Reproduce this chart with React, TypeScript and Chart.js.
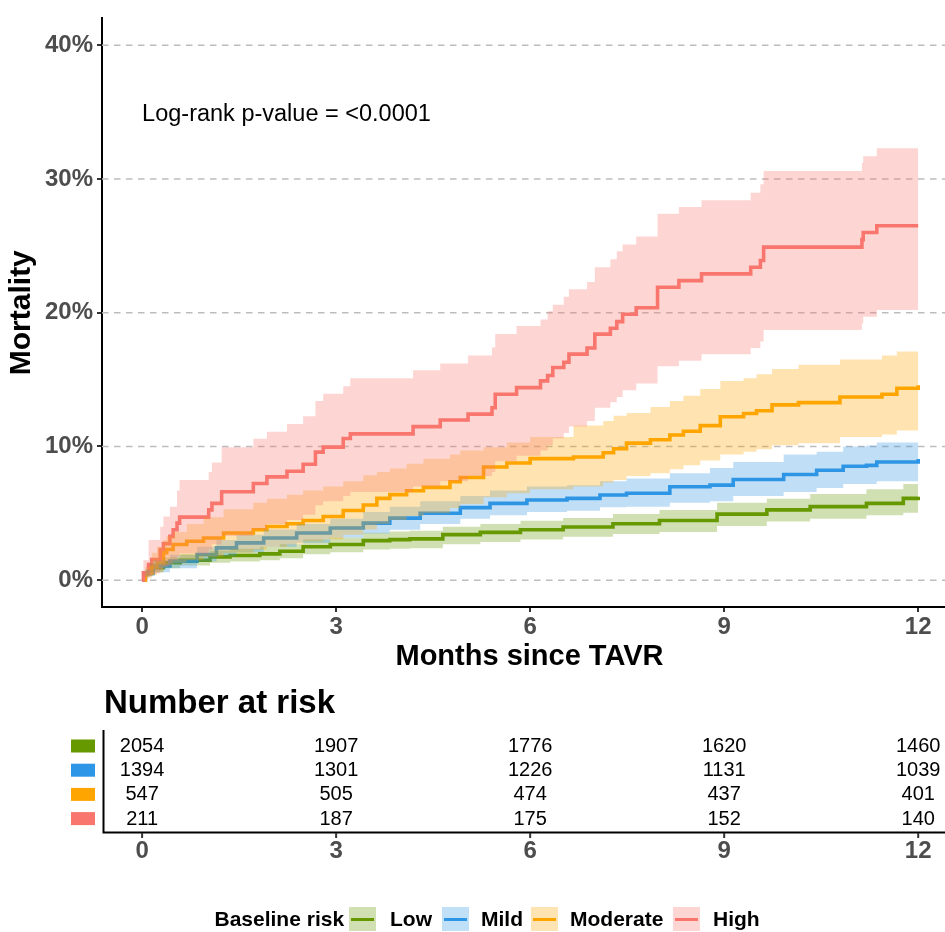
import React, { useEffect, useRef } from 'react';
import { Chart, registerables } from 'chart.js';

Chart.register(...registerables);

const FONT = '"Liberation Sans", Arial, Helvetica, sans-serif';

const groupNames = ['Low', 'Mild', 'Moderate', 'High'];
const legendTitle = 'Baseline risk';
const pValueText = 'Log-rank p-value = <0.0001';
const xTitle = 'Months since TAVR';
const yTitle = 'Mortality';
const tableTitle = 'Number at risk';

const lineColors = ['#669900', '#2E96E6', '#FFA500', '#F8766D'];
const bandAlpha = 0.3;

const xTickValues = [0, 3, 6, 9, 12];
const yTickValues = [0, 10, 20, 30, 40];
const pValuePos = [0, 35];

// Low risk (green)
const lowTime = [0, 0.05, 0.12, 0.33, 0.59, 1.05, 1.36, 1.82, 2.13, 2.49, 2.91, 3.42, 3.83, 4.14, 4.65, 5.23, 5.85, 6.51, 7.28, 8.0, 8.89, 9.66, 10.33, 11.2, 11.77, 12.0];
const lowEst = [0, 0.5, 0.94, 1.31, 1.5, 1.75, 1.85, 1.97, 2.17, 2.5, 2.67, 2.96, 3.04, 3.09, 3.41, 3.58, 3.78, 3.98, 4.22, 4.47, 4.94, 5.26, 5.5, 5.75, 6.12, 6.24];
const lowHi = [0, 0.8, 1.3, 1.7, 1.95, 2.2, 2.35, 2.5, 2.7, 3.05, 3.2, 3.55, 3.65, 3.7, 4.0, 4.2, 4.45, 4.65, 4.95, 5.26, 5.8, 6.1, 6.45, 6.8, 7.2, 7.36];
const lowLo = [0, 0.25, 0.6, 0.9, 1.1, 1.3, 1.4, 1.5, 1.65, 1.95, 2.1, 2.3, 2.35, 2.4, 2.7, 2.85, 3.05, 3.25, 3.45, 3.6, 4.05, 4.4, 4.6, 4.85, 5.05, 5.13];

// Mild risk (blue)
const mildTime = [0, 0.05, 0.17, 0.43, 0.85, 1.15, 1.46, 1.88, 2.39, 2.91, 3.42, 3.83, 4.3, 4.92, 5.38, 5.95, 6.57, 7.08, 7.49, 8.16, 8.78, 9.14, 9.92, 10.43, 10.84, 11.2, 11.36, 12.0];
const mildEst = [0, 0.5, 1.06, 1.43, 1.93, 2.42, 2.79, 3.16, 3.53, 3.9, 4.27, 4.64, 5.01, 5.43, 5.75, 6.0, 6.12, 6.37, 6.5, 6.99, 7.11, 7.53, 7.9, 8.22, 8.52, 8.59, 8.84, 9.06];
const mildHi = [0, 0.8, 1.5, 1.9, 2.5, 3.0, 3.4, 3.8, 4.2, 4.6, 5.1, 5.5, 5.9, 6.3, 6.7, 7.0, 7.1, 7.4, 7.6, 8.0, 8.4, 8.84, 9.4, 9.6, 10.0, 10.07, 10.3, 10.57];
const mildLo = [0, 0.3, 0.6, 0.9, 1.4, 1.8, 2.1, 2.5, 2.8, 3.2, 3.5, 3.78, 4.2, 4.6, 4.85, 5.1, 5.2, 5.45, 5.5, 5.8, 5.9, 6.3, 6.6, 6.9, 7.2, 7.2, 7.4, 7.48];

// Moderate risk (orange)
const modTime = [0, 0.05, 0.15, 0.23, 0.33, 0.38, 0.48, 0.69, 0.95, 1.26, 1.72, 1.93, 2.24, 2.49, 2.8, 3.11, 3.42, 3.63, 3.83, 4.09, 4.35, 4.76, 4.92, 5.28, 5.64, 6.0, 6.67, 7.13, 7.29, 7.49, 7.86, 8.16, 8.37, 8.63, 8.94, 9.3, 9.5, 9.74, 10.15, 10.79, 11.44, 11.67, 12.0];
const modEst = [0, 0.5, 1.0, 1.31, 2.05, 2.3, 2.67, 2.91, 3.16, 3.53, 3.78, 4.02, 4.22, 4.47, 4.76, 5.21, 5.63, 6.12, 6.4, 6.69, 6.94, 7.36, 7.68, 8.47, 8.77, 9.09, 9.21, 9.53, 9.83, 10.25, 10.5, 10.86, 11.14, 11.56, 12.22, 12.47, 12.67, 13.11, 13.28, 13.7, 13.9, 14.35, 14.57];
const modHi = [0, 1.0, 2.05, 2.5, 3.0, 3.3, 3.6, 4.2, 4.7, 5.3, 5.8, 6.1, 6.4, 6.7, 7.0, 7.4, 7.85, 8.1, 8.35, 8.7, 9.09, 9.4, 9.7, 9.95, 10.3, 10.7, 11.56, 11.9, 12.3, 12.5, 12.96, 13.4, 13.8, 14.3, 14.9, 15.1, 15.4, 15.8, 16.1, 16.5, 16.8, 17.1, 17.48];
const modLo = [0, 0.2, 0.4, 0.6, 1.0, 1.15, 1.3, 1.5, 1.75, 2.05, 2.3, 2.5, 2.7, 2.9, 3.04, 3.4, 3.8, 4.2, 4.5, 4.8, 5.0, 5.4, 5.7, 6.2, 6.5, 6.8, 7.0, 7.3, 7.5, 7.8, 8.0, 8.3, 8.6, 8.96, 9.4, 9.6, 9.8, 10.1, 10.25, 10.7, 10.9, 11.2, 11.4];

// High risk (red)
const highTime = [0, 0.02, 0.1, 0.15, 0.28, 0.33, 0.43, 0.48, 0.54, 0.58, 1.03, 1.08, 1.23, 1.72, 1.93, 2.24, 2.49, 2.68, 2.8, 3.11, 3.22, 4.19, 4.61, 5.04, 5.41, 5.46, 5.79, 6.16, 6.27, 6.35, 6.52, 6.6, 6.88, 7.0, 7.24, 7.34, 7.43, 7.64, 7.97, 8.3, 8.65, 9.41, 9.56, 9.61, 11.13, 11.15, 11.36, 12.0];
const highEst = [0, 0.55, 1.18, 1.55, 2.3, 2.74, 3.28, 3.78, 4.27, 4.72, 5.26, 5.75, 6.62, 7.23, 7.73, 8.15, 8.67, 9.58, 9.95, 10.6, 10.94, 11.48, 11.98, 12.42, 12.9, 13.9, 14.4, 14.9, 15.3, 15.9, 16.3, 16.9, 17.36, 18.4, 18.84, 19.33, 19.88, 20.37, 21.9, 22.4, 22.9, 23.4, 23.9, 24.9, 25.46, 26.0, 26.5, 26.5];
const highHi = [0, 1.5, 3.0, 3.0, 4.0, 4.77, 5.5, 5.5, 6.7, 7.5, 8.1, 8.8, 9.95, 10.57, 11.1, 11.68, 12.25, 13.4, 13.95, 14.5, 15.1, 15.7, 16.2, 16.8, 17.4, 18.4, 19.0, 19.5, 20.1, 20.6, 21.2, 21.75, 22.3, 23.4, 24.0, 24.6, 25.1, 25.7, 27.4, 27.9, 28.4, 28.96, 29.6, 30.6, 31.2, 31.7, 32.3, 32.3];
const highLo = [0, 0.1, 0.3, 0.5, 0.8, 1.0, 1.3, 1.5, 1.8, 2.0, 2.3, 2.7, 3.3, 3.8, 4.2, 4.5, 4.9, 5.6, 5.9, 6.3, 6.6, 7.0, 7.4, 7.8, 8.1, 8.9, 9.3, 9.7, 10.1, 10.6, 11.0, 11.5, 11.9, 12.9, 13.3, 13.7, 14.2, 14.7, 16.0, 16.4, 16.9, 17.36, 17.85, 18.7, 19.2, 19.7, 20.2, 20.2];

// Number at risk at months 0, 3, 6, 9, 12
const atRiskLow = [2054, 1907, 1776, 1620, 1460];
const atRiskMild = [1394, 1301, 1226, 1131, 1039];
const atRiskModerate = [547, 505, 474, 437, 401];
const atRiskHigh = [211, 187, 175, 152, 140];

const groups = [
  { t: lowTime, est: lowEst, lo: lowLo, hi: lowHi, atRisk: atRiskLow },
  { t: mildTime, est: mildEst, lo: mildLo, hi: mildHi, atRisk: atRiskMild },
  { t: modTime, est: modEst, lo: modLo, hi: modHi, atRisk: atRiskModerate },
  { t: highTime, est: highEst, lo: highLo, hi: highHi, atRisk: atRiskHigh },
];

function rgbOf(hex: string) {
  const h = hex.replace('#', '');
  return [parseInt(h.slice(0, 2), 16), parseInt(h.slice(2, 4), 16), parseInt(h.slice(4, 6), 16)];
}
function rgba(hex: string, a: number) {
  const [r, g, b] = rgbOf(hex);
  return `rgba(${r},${g},${b},${a})`;
}
function flatOnWhite(hex: string, a: number) {
  const [r, g, b] = rgbOf(hex).map((c) => Math.round(255 - a * (255 - c)));
  return `rgb(${r},${g},${b})`;
}

const pts = (t: number[], v: number[]) => t.map((x, i) => ({ x, y: v[i] }));

function drawText(ctx: CanvasRenderingContext2D, s: string, x: number, y: number, font: string, color: string, align: CanvasTextAlign) {
  ctx.save();
  ctx.font = font;
  ctx.fillStyle = color;
  ctx.textAlign = align;
  ctx.textBaseline = 'middle';
  ctx.fillText(s, x, y);
  ctx.restore();
}

const decorPlugin = {
  id: 'decor',
  beforeDatasetsDraw(chart: any) {
    const { ctx, chartArea, scales } = chart;
    const y = scales.y;
    ctx.save();
    ctx.strokeStyle = '#BDBDBD';
    ctx.lineWidth = 1.5;
    ctx.setLineDash([6.5, 5.5]);
    yTickValues.forEach((v) => {
      const py = y.getPixelForValue(v);
      ctx.beginPath();
      ctx.moveTo(chartArea.left, py);
      ctx.lineTo(chartArea.right, py);
      ctx.stroke();
    });
    ctx.restore();
  },
  afterDraw(chart: any) {
    const { ctx, scales } = chart;
    const x = scales.x;
    const y = scales.y;

    // p-value annotation
    drawText(ctx, pValueText, x.getPixelForValue(pValuePos[0]), y.getPixelForValue(pValuePos[1]) + 2, `23.5px ${FONT}`, '#000', 'left');

    // Risk table
    drawText(ctx, tableTitle, 104, 704, `bold 33px ${FONT}`, '#000', 'left');
    const xs = xTickValues.map((v) => x.getPixelForValue(v));
    groups.forEach((g, r) => {
      const ry = 746 + 24.2 * r;
      ctx.fillStyle = lineColors[r];
      ctx.fillRect(71, ry - 6.5, 24, 13);
      g.atRisk.forEach((n, c) => {
        drawText(ctx, String(n), xs[c], ry + 0.5, `20px ${FONT}`, '#000', 'center');
      });
    });
    ctx.save();
    ctx.strokeStyle = '#000';
    ctx.lineWidth = 2;
    ctx.beginPath();
    ctx.moveTo(103.5, 730);
    ctx.lineTo(103.5, 833);
    ctx.moveTo(102.5, 832.5);
    ctx.lineTo(chart.width, 832.5);
    ctx.stroke();
    ctx.strokeStyle = '#333';
    xs.forEach((px) => {
      ctx.beginPath();
      ctx.moveTo(px, 833);
      ctx.lineTo(px, 838);
      ctx.stroke();
    });
    ctx.restore();
    xTickValues.forEach((v, i) => {
      drawText(ctx, String(v), xs[i], 851.5, `bold 24px ${FONT}`, '#4D4D4D', 'center');
    });

    // Legend
    const ly = 920;
    drawText(ctx, legendTitle, 214.5, ly, `bold 21px ${FONT}`, '#000', 'left');
    const keyX = [349, 442, 531, 673];
    const labelX = [390, 481, 570, 713];
    groupNames.forEach((name, i) => {
      ctx.fillStyle = flatOnWhite(lineColors[i], bandAlpha);
      ctx.fillRect(keyX[i], 907, 27, 24);
      ctx.save();
      ctx.strokeStyle = lineColors[i];
      ctx.lineWidth = 3;
      ctx.beginPath();
      ctx.moveTo(keyX[i] + 2, 919.5);
      ctx.lineTo(keyX[i] + 25, 919.5);
      ctx.stroke();
      ctx.restore();
      drawText(ctx, name, labelX[i], ly, `bold 21px ${FONT}`, '#000', 'left');
    });
  },
};

export default function App() {
  const canvasRef = useRef<HTMLCanvasElement | null>(null);

  useEffect(() => {
    const datasets: any[] = [];
    groups.forEach((g, i) => {
      datasets.push({
        data: pts(g.t, g.est),
        borderColor: lineColors[i],
        backgroundColor: lineColors[i],
        borderWidth: 3.6,
        stepped: true,
        pointRadius: 0,
        pointHoverRadius: 0,
        fill: false,
        borderJoinStyle: 'miter',
        borderCapStyle: 'butt',
        order: 10 - i,
      });
    });
    groups.forEach((g, i) => {
      datasets.push({
        data: pts(g.t, g.hi),
        borderColor: 'transparent',
        borderWidth: 0,
        backgroundColor: rgba(lineColors[i], bandAlpha),
        fill: '+1',
        stepped: true,
        pointRadius: 0,
        pointHoverRadius: 0,
        order: 5 - i,
      });
      datasets.push({
        data: pts(g.t, g.lo),
        borderColor: 'transparent',
        borderWidth: 0,
        backgroundColor: 'transparent',
        fill: false,
        stepped: true,
        pointRadius: 0,
        pointHoverRadius: 0,
        order: 5 - i,
      });
    });

    const chart = new Chart(canvasRef.current as HTMLCanvasElement, {
      type: 'line',
      data: { datasets },
      options: {
        responsive: false,
        animation: false,
        devicePixelRatio: 1,
        events: [],
        layout: { padding: { left: 0, top: 12, right: 3, bottom: 255 } },
        plugins: {
          legend: { display: false },
          tooltip: { enabled: false },
        },
        scales: {
          x: {
            type: 'linear',
            min: -0.62,
            max: 12.6,
            afterBuildTicks: (s: any) => {
              s.ticks = xTickValues.map((v) => ({ value: v }));
            },
            afterFit: (s: any) => {
              s.height = 70;
            },
            grid: { drawOnChartArea: false, drawTicks: true, tickLength: 5, tickColor: '#333', tickWidth: 2, lineWidth: 2 },
            border: { display: true, color: '#000', width: 2 },
            ticks: {
              autoSkip: false,
              maxRotation: 0,
              padding: 1,
              color: '#4D4D4D',
              font: { family: FONT, size: 24, weight: 'bold' },
            },
            title: {
              display: true,
              text: xTitle,
              color: '#000',
              font: { family: FONT, size: 29, weight: 'bold' },
              padding: { top: 0, bottom: 3 },
            },
          },
          y: {
            type: 'linear',
            min: -2,
            max: 42,
            afterBuildTicks: (s: any) => {
              s.ticks = yTickValues.map((v) => ({ value: v }));
            },
            afterFit: (s: any) => {
              s.width = 102;
            },
            grid: { drawOnChartArea: false, drawTicks: true, tickLength: 5, tickColor: '#333', tickWidth: 2, lineWidth: 2 },
            border: { display: true, color: '#000', width: 2 },
            ticks: {
              padding: 4,
              color: '#4D4D4D',
              font: { family: FONT, size: 24, weight: 'bold' },
              callback: (v: any) => `${v}%`,
            },
            title: {
              display: true,
              text: yTitle,
              color: '#000',
              font: { family: FONT, size: 30, weight: 'bold' },
              padding: { top: 4, bottom: 0 },
            },
          },
        },
      } as any,
      plugins: [decorPlugin],
    });
    return () => chart.destroy();
  }, []);

  return (
    <div style={{ position: 'fixed', left: 0, top: 0, width: 945, height: 932, overflow: 'hidden', background: '#fff' }}>
      <canvas ref={canvasRef} width={960} height={932} style={{ display: 'block', width: 960, height: 932 }} />
    </div>
  );
}
